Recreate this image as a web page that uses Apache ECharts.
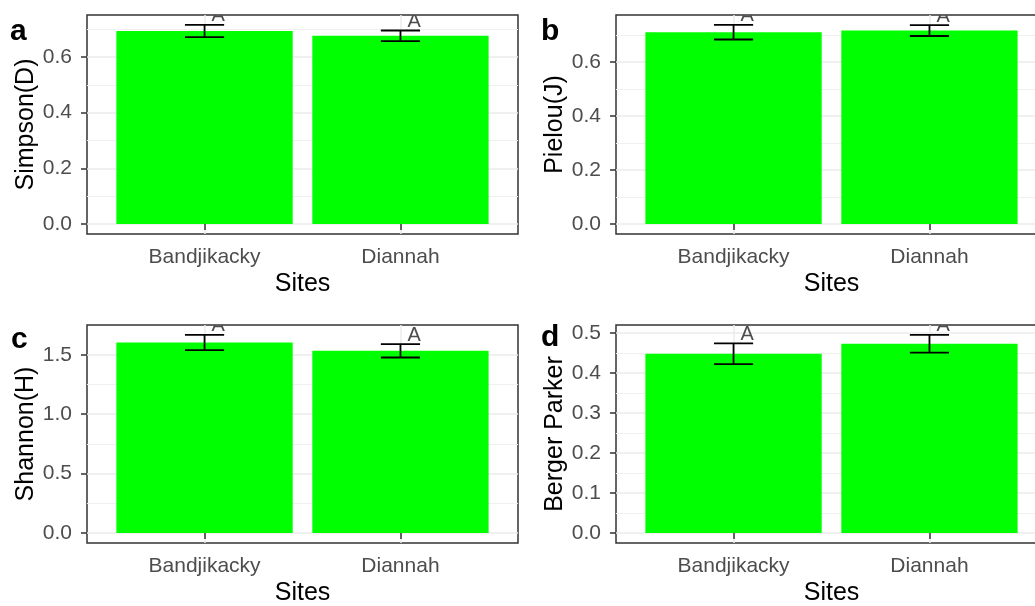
<!DOCTYPE html>
<html>
<head>
<meta charset="utf-8">
<script src="https://cdn.jsdelivr.net/npm/echarts@6/dist/echarts.min.js"></script>
<style>
  html, body { margin: 0; background: #fff; }
  #chart { width: 1035px; height: 606px; }
</style>
</head>
<body>
<div id="chart"></div>
<script>
// sites on the x axis (ggplot discrete positions 1, 2)
const sites = ['Bandjikacky', 'Diannah'];
const siteX = [1, 2];
const groupLetters = ['A', 'A'];

// mean and standard error per index
const simpsonMean = [0.693, 0.676];
const simpsonSe = [0.022, 0.019];
const pielouMean = [0.711, 0.717];
const pielouSe = [0.027, 0.020];
const shannonMean = [1.603, 1.533];
const shannonSe = [0.064, 0.056];
const bergerMean = [0.448, 0.473];
const bergerSe = [0.026, 0.022];

// y breaks (major labelled, minor only as grid lines)
const simpsonTicks = [0, 0.2, 0.4, 0.6];
const simpsonMinor = [0.1, 0.3, 0.5, 0.7];
const pielouTicks = [0, 0.2, 0.4, 0.6];
const pielouMinor = [0.1, 0.3, 0.5, 0.7];
const shannonTicks = [0, 0.5, 1.0, 1.5];
const shannonMinor = [0.25, 0.75, 1.25];
const bergerTicks = [0, 0.1, 0.2, 0.3, 0.4, 0.5];
const bergerMinor = [0.05, 0.15, 0.25, 0.35, 0.45];

const FONT = '"Liberation Sans", Arial, sans-serif';

const panels = [
  { tag: 'a', name: 'Simpson(D)', mean: simpsonMean, se: simpsonSe, ticks: simpsonTicks, minor: simpsonMinor,
    box: { left: 87, top: 15, width: 431, height: 219 }, tagPos: { left: 10, top: 17 } },
  { tag: 'b', name: 'Pielou(J)', mean: pielouMean, se: pielouSe, ticks: pielouTicks, minor: pielouMinor,
    box: { left: 616, top: 15, width: 431, height: 219 }, tagPos: { left: 541, top: 17 } },
  { tag: 'c', name: 'Shannon(H)', mean: shannonMean, se: shannonSe, ticks: shannonTicks, minor: shannonMinor,
    box: { left: 87, top: 325, width: 431, height: 218 }, tagPos: { left: 11, top: 325 } },
  { tag: 'd', name: 'Berger Parker', mean: bergerMean, se: bergerSe, ticks: bergerTicks, minor: bergerMinor,
    box: { left: 616, top: 325, width: 431, height: 218 }, tagPos: { left: 541, top: 323 } },
];

const grid = [];
const xAxis = [];
const yAxis = [];
const series = [];
const title = [];

panels.forEach((p, i) => {
  const top = Math.max(...p.mean.map((m, k) => m + p.se[k]));
  const yMin = -0.05 * top;
  const yMax = 1.05 * top;

  grid.push({
    ...p.box,
    outerBoundsMode: 'none',
    containLabel: false,
    show: true,
    backgroundColor: '#fff',
    borderColor: '#333333',
    borderWidth: 1.5,
  });

  title.push({
    text: p.tag,
    left: p.tagPos.left,
    top: p.tagPos.top,
    padding: 0,
    textStyle: { fontFamily: FONT, fontSize: 30, fontWeight: 'bold', color: '#000' },
  });

  xAxis.push({
    type: 'value',
    gridIndex: i,
    min: 0.4,
    max: 2.6,
    name: 'Sites',
    nameLocation: 'middle',
    nameGap: 38,
    nameTextStyle: { fontFamily: FONT, fontSize: 25, color: '#000' },
    axisLine: { show: false },
    axisTick: { customValues: siteX, length: 6, lineStyle: { color: '#333333', width: 1.5 } },
    axisLabel: {
      customValues: siteX,
      formatter: (v) => sites[Math.round(v) - 1],
      fontFamily: FONT,
      fontSize: 21,
      color: '#4D4D4D',
      margin: 13,
    },
    splitLine: { show: true, lineStyle: { color: '#EBEBEB', width: 1.5 } },
  });

  yAxis.push({
    type: 'value',
    gridIndex: i,
    min: yMin,
    max: yMax,
    name: p.name,
    nameLocation: 'middle',
    nameGap: 47,
    nameTextStyle: { fontFamily: FONT, fontSize: 25, color: '#000' },
    axisLine: { show: false },
    axisTick: { customValues: p.ticks, length: 6, lineStyle: { color: '#333333', width: 1.5 } },
    axisLabel: {
      customValues: p.ticks,
      formatter: (v) => v.toFixed(1),
      fontFamily: FONT,
      fontSize: 21,
      color: '#4D4D4D',
      margin: 15,
    },
    splitLine: { show: true, lineStyle: { color: '#EBEBEB', width: 1.5 } },
  });

  // second axis on the same scale, only for the minor grid lines
  yAxis.push({
    type: 'value',
    gridIndex: i,
    position: 'left',
    min: yMin,
    max: yMax,
    axisLine: { show: false },
    axisTick: { show: false, customValues: p.minor },
    axisLabel: { show: false },
    splitLine: { show: true, lineStyle: { color: '#F0F0F0', width: 1 } },
  });

  series.push({
    type: 'bar',
    xAxisIndex: i,
    yAxisIndex: 2 * i,
    silent: true,
    barWidth: (p.box.width * 0.9) / 2.2,
    itemStyle: { color: '#00FF00' },
    data: siteX.map((x, k) => [x, p.mean[k]]),
  });

  series.push({
    type: 'custom',
    xAxisIndex: i,
    yAxisIndex: 2 * i,
    silent: true,
    z: 3,
    encode: { x: 0, y: [1, 2] },
    data: siteX.map((x, k) => [x, p.mean[k] - p.se[k], p.mean[k] + p.se[k]]),
    renderItem(params, api) {
      const x = api.value(0);
      const lo = api.value(1);
      const hi = api.value(2);
      const hl = api.coord([x - 0.1, hi]);
      const hr = api.coord([x + 0.1, hi]);
      const ll = api.coord([x - 0.1, lo]);
      const lr = api.coord([x + 0.1, lo]);
      const style = { stroke: '#000', lineWidth: 1.8 };
      return {
        type: 'group',
        children: [
          { type: 'line', shape: { x1: hl[0], y1: hl[1], x2: hr[0], y2: hr[1] }, style },
          { type: 'line', shape: { x1: ll[0], y1: ll[1], x2: lr[0], y2: lr[1] }, style },
          { type: 'line', shape: { x1: (hl[0] + hr[0]) / 2, y1: hl[1], x2: (ll[0] + lr[0]) / 2, y2: ll[1] }, style },
        ],
      };
    },
  });

  series.push({
    type: 'custom',
    xAxisIndex: i,
    yAxisIndex: 2 * i,
    silent: true,
    clip: true,
    z: 4,
    data: siteX.map((x, k) => [x, p.mean[k] + p.se[k], groupLetters[k]]),
    renderItem(params, api) {
      const pt = api.coord([api.value(0), api.value(1)]);
      return {
        type: 'text',
        x: pt[0] + 7,
        y: pt[1] - 9,
        style: {
          text: groupLetters[params.dataIndex],
          fill: '#4D4D4D',
          fontFamily: FONT,
          fontSize: 20,
          align: 'left',
          verticalAlign: 'middle',
        },
      };
    },
  });
});

const chart = echarts.init(document.getElementById('chart'), null, { renderer: 'canvas' });
chart.setOption({
  animation: false,
  backgroundColor: '#fff',
  title,
  grid,
  xAxis,
  yAxis,
  series,
});
</script>
</body>
</html>
